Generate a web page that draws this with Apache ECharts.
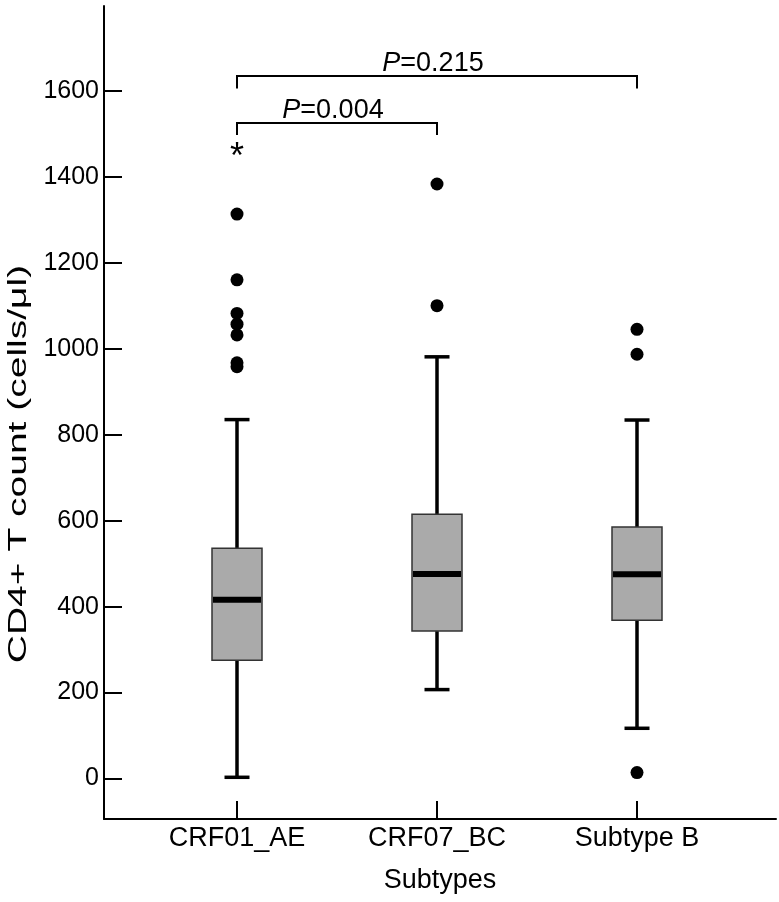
<!DOCTYPE html>
<html>
<head>
<meta charset="utf-8">
<script src="https://cdn.jsdelivr.net/npm/echarts@6/dist/echarts.min.js"></script>
<style>
html,body{margin:0;padding:0;background:#fff;}
#chart{width:779px;height:902px;}
</style>
</head>
<body>
<div id="chart"></div>
<script>
// ---- data ----
const categories = ['CRF01_AE', 'CRF07_BC', 'Subtype B'];
const boxMin    = [3, 207, 117];
const boxQ1     = [275, 343, 368];
const boxMedian = [416, 476, 475];
const boxQ3     = [536, 615, 585];
const boxMax    = [835, 981, 834];
const outlierGroup = [0, 0, 0, 0, 0, 0, 0, 1, 1, 2, 2, 2];
const outlierValue = [1313, 1160, 1082, 1057, 1032, 967, 958, 1383, 1100, 1045, 987, 14];
const extremeGroup = [0];
const extremeValue = [1462];
const yTicks = [0, 200, 400, 600, 800, 1000, 1200, 1400, 1600];
const xTicks = [0, 1, 2];
const bracketFrom  = [0, 0];
const bracketTo    = [1, 2];
const bracketLevel = [1525, 1634];
const bracketDrop  = [1497, 1605];
const pValues      = ['0.004', '0.215'];
const yTitle = 'CD4+ T count (cells/μl)';
const xTitle = 'Subtypes';

const FONT = "'Liberation Sans', Arial, Helvetica, sans-serif";
const chart = echarts.init(document.getElementById('chart'), null, {renderer: 'canvas'});

const boxData = categories.map((c, i) => [i, boxMin[i], boxQ1[i], boxMedian[i], boxQ3[i], boxMax[i]]);
const outlierData = outlierValue.map((v, i) => [outlierGroup[i], v]);
const extremeData = extremeValue.map((v, i) => [extremeGroup[i], v]);
const bracketData = pValues.map((p, i) => [bracketFrom[i], bracketTo[i], bracketLevel[i], bracketDrop[i]]);

const axisCommon = {
  axisLine: {onZero: false, lineStyle: {color: '#000', width: 2}},
  axisTick: {inside: true, length: 18, lineStyle: {color: '#000', width: 2}},
  splitLine: {show: false}
};

const option = {
  animation: false,
  backgroundColor: '#fff',
  grid: {left: 104, right: 3, top: 6, bottom: 83, containLabel: false},
  xAxis: Object.assign({}, axisCommon, {
    type: 'value', min: -0.665, max: 2.695,
    axisTick: Object.assign({}, axisCommon.axisTick, {customValues: xTicks}),
    axisLabel: {customValues: xTicks, formatter: v => categories[Math.round(v)], color: '#000',
      fontSize: 27, fontFamily: FONT, margin: 6},
    name: xTitle, nameLocation: 'middle', nameGap: 48,
    nameTextStyle: {color: '#000', fontSize: 27, fontFamily: FONT}
  }),
  yAxis: Object.assign({}, axisCommon, {
    type: 'value', min: -94, max: 1797,
    axisTick: Object.assign({}, axisCommon.axisTick, {customValues: yTicks}),
    axisLabel: {customValues: yTicks, formatter: v => String(v), color: '#000', fontSize: 25,
      fontFamily: FONT, margin: 5}
  }),
  graphic: [{
    type: 'text', x: 19, y: 464, rotation: Math.PI / 2, scaleX: 1.5,
    style: {text: yTitle, font: '26px ' + FONT, fill: '#000', align: 'center', verticalAlign: 'middle'}
  }],
  series: [
    {
      type: 'custom',
      data: boxData,
      encode: {x: 0, y: [1, 2, 3, 4, 5]},
      renderItem: function (params, api) {
        const x = api.value(0);
        const half = api.size([1, 0])[0] * 0.125;
        const cap = half / 2;
        const pMin = api.coord([x, api.value(1)]);
        const pQ1 = api.coord([x, api.value(2)]);
        const pMed = api.coord([x, api.value(3)]);
        const pQ3 = api.coord([x, api.value(4)]);
        const pMax = api.coord([x, api.value(5)]);
        const wStyle = {stroke: '#000', lineWidth: 3.5};
        return {
          type: 'group',
          children: [
            {type: 'line', shape: {x1: pMax[0], y1: pMax[1], x2: pQ3[0], y2: pQ3[1]}, style: wStyle},
            {type: 'line', shape: {x1: pQ1[0], y1: pQ1[1], x2: pMin[0], y2: pMin[1]}, style: wStyle},
            {type: 'line', shape: {x1: pMax[0] - cap, y1: pMax[1], x2: pMax[0] + cap, y2: pMax[1]}, style: wStyle},
            {type: 'line', shape: {x1: pMin[0] - cap, y1: pMin[1], x2: pMin[0] + cap, y2: pMin[1]}, style: wStyle},
            {type: 'rect', shape: {x: pQ3[0] - half, y: pQ3[1], width: half * 2, height: pQ1[1] - pQ3[1]},
              style: {fill: '#aaaaaa', stroke: '#333', lineWidth: 1.5}},
            {type: 'line', shape: {x1: pMed[0] - half + 1, y1: pMed[1], x2: pMed[0] + half - 1, y2: pMed[1]},
              style: {stroke: '#000', lineWidth: 6}}
          ]
        };
      }
    },
    {
      type: 'scatter',
      data: outlierData,
      symbol: 'circle',
      symbolSize: 13,
      itemStyle: {color: '#000', opacity: 1}
    },
    {
      type: 'scatter',
      data: extremeData,
      symbolSize: 1,
      itemStyle: {color: '#fff', opacity: 0},
      label: {show: true, position: 'inside', formatter: '*', color: '#000', opacity: 1, fontSize: 36,
        fontFamily: FONT, offset: [0, 8]}
    },
    {
      type: 'custom',
      data: bracketData,
      encode: {x: [0, 1], y: [2, 3]},
      renderItem: function (params, api) {
        const a0 = api.coord([api.value(0), api.value(3)]);
        const a1 = api.coord([api.value(0), api.value(2)]);
        const b1 = api.coord([api.value(1), api.value(2)]);
        const b0 = api.coord([api.value(1), api.value(3)]);
        const p = pValues[params.dataIndex];
        return {
          type: 'group',
          children: [
            {type: 'polyline', shape: {points: [a0, a1, b1, b0]}, style: {stroke: '#000', lineWidth: 2, fill: null}},
            {type: 'text', x: (a1[0] + b1[0]) / 2 - 4, y: a1[1] + 1,
              style: {text: '{i|P}{n|=' + p + '}', align: 'center', verticalAlign: 'bottom',
                fill: '#000', font: '27px ' + FONT,
                rich: {i: {fontStyle: 'italic', fontSize: 27, fontFamily: FONT, fill: '#000'},
                       n: {fontSize: 27, fontFamily: FONT, fill: '#000'}}}}
          ]
        };
      }
    }
  ]
};
chart.setOption(option);
</script>
</body>
</html>
